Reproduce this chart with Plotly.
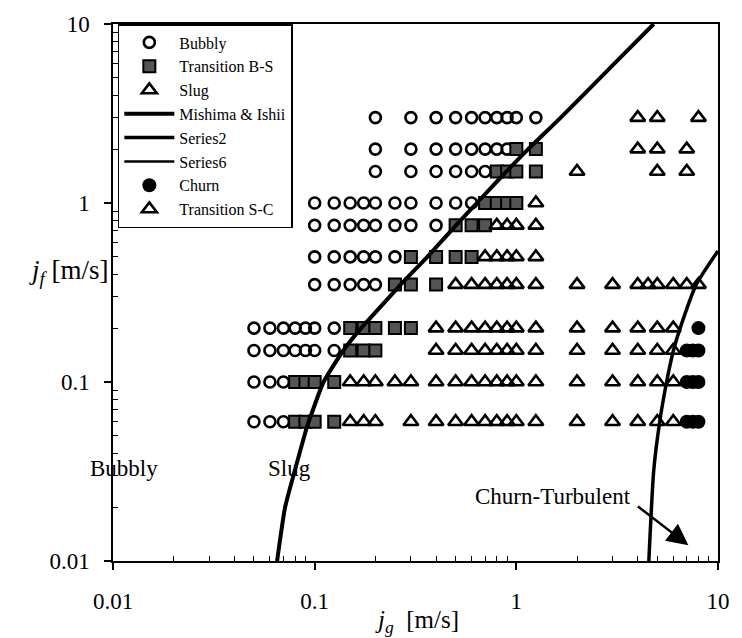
import plotly.graph_objects as go

# ---------------- data ----------------
jf_rows = [3.0, 2.0, 1.5, 1.0, 0.75, 0.5, 0.35, 0.2, 0.15, 0.1, 0.06]

bubbly_jg = [
    [0.2, 0.3, 0.4, 0.5, 0.6, 0.7, 0.8, 0.9, 1.0, 1.25],
    [0.2, 0.3, 0.4, 0.5, 0.6, 0.7, 0.8, 0.9],
    [0.2, 0.3, 0.4, 0.5, 0.6, 0.7],
    [0.1, 0.125, 0.15, 0.175, 0.2, 0.25, 0.3, 0.4, 0.5, 0.6],
    [0.1, 0.125, 0.15, 0.175, 0.2, 0.25, 0.3, 0.4],
    [0.1, 0.125, 0.15, 0.175, 0.2, 0.25],
    [0.1, 0.125, 0.15, 0.175, 0.2],
    [0.05, 0.06, 0.07, 0.08, 0.09, 0.1, 0.125],
    [0.05, 0.06, 0.07, 0.08, 0.09, 0.1, 0.125],
    [0.05, 0.06, 0.07],
    [0.05, 0.06, 0.07],
]

trans_bs_jg = [
    [],
    [1.0, 1.25],
    [0.8, 0.9, 1.0, 1.25],
    [0.7, 0.8, 0.9, 1.0],
    [0.5, 0.6, 0.7],
    [0.3, 0.4, 0.5, 0.6],
    [0.25, 0.3, 0.4],
    [0.15, 0.175, 0.2, 0.25, 0.3],
    [0.15, 0.175, 0.2],
    [0.08, 0.09, 0.1, 0.125],
    [0.08, 0.09, 0.1, 0.125],
]

slug_jg = [
    [4, 5, 8],
    [4, 5, 7],
    [2, 5, 7],
    [1.25],
    [0.8, 0.9, 1.0, 1.25],
    [0.7, 0.8, 0.9, 1.0, 1.25],
    [0.5, 0.6, 0.7, 0.8, 0.9, 1.0, 1.25, 2, 3, 4, 4.5, 5, 6, 7, 8],
    [0.4, 0.5, 0.6, 0.7, 0.8, 0.9, 1.0, 1.25, 2, 3, 4, 5],
    [0.4, 0.5, 0.6, 0.7, 0.8, 0.9, 1.0, 1.25, 2, 3, 4, 5],
    [0.15, 0.175, 0.2, 0.25, 0.3, 0.4, 0.5, 0.6, 0.7, 0.8, 0.9, 1.0, 1.25, 2, 3, 4, 5],
    [0.15, 0.175, 0.2, 0.3, 0.4, 0.5, 0.6, 0.7, 0.8, 0.9, 1.0, 1.25, 2, 3, 4, 5],
]

trans_sc_jg = [[], [], [], [], [], [], [], [6], [6], [6], [6]]

churn_jg = [[], [], [], [], [], [], [], [8], [7, 7.5, 8], [7, 7.5, 8], [7, 7.5, 8]]

mishima_jg = [0.0651, 0.0713, 0.0789, 0.0903, 0.0935, 0.1107, 0.1387, 0.170, 0.197,
              0.267, 0.362, 0.502, 0.637, 0.894, 1.145, 1.66, 3.06, 4.80]
mishima_jf = [0.01, 0.0199, 0.0307, 0.0532, 0.06, 0.1, 0.15, 0.2, 0.24,
              0.35, 0.5, 0.75, 1.0, 1.5, 2.0, 3.0, 6.0, 10.0]

series2_jg = [4.54, 4.8, 5.14, 5.56, 6.01, 6.49, 7.8, 10.0]
series2_jf = [0.01, 0.032, 0.06, 0.1, 0.15, 0.2, 0.35, 0.54]

series6_jg = [None]
series6_jf = [None]

tick_vals = [0.01, 0.1, 1, 10]
tick_text = ["0.01", "0.1", "1", "10"]
minor_digits = [2, 3, 4, 5, 6, 7, 8, 9]
decades = [0.01, 0.1, 1]


def flatten(rows, values):
    xs, ys = [], []
    for jf, row in zip(rows, values):
        for jg in row:
            xs.append(jg)
            ys.append(jf)
    return xs, ys


minor_vals = [d * k for d in decades for k in minor_digits]

SERIF = "Liberation Serif, Times New Roman, serif"

fig = go.Figure()

bx, by = flatten(jf_rows, bubbly_jg)
fig.add_trace(go.Scatter(x=bx, y=by, mode="markers", name="Bubbly",
                         marker=dict(symbol="circle-open", size=11, color="black",
                                     line=dict(width=2.6, color="black"))))

tx, ty = flatten(jf_rows, trans_bs_jg)
fig.add_trace(go.Scatter(x=tx, y=ty, mode="markers", name="Transition B-S",
                         marker=dict(symbol="square", size=12, color="#555555",
                                     line=dict(width=2, color="black"))))

sx, sy = flatten(jf_rows, slug_jg)
fig.add_trace(go.Scatter(x=sx, y=sy, mode="markers", name="Slug",
                         marker=dict(symbol="triangle-up-open", size=13, color="black",
                                     line=dict(width=2.6, color="black"))))

fig.add_trace(go.Scatter(x=mishima_jg, y=mishima_jf, mode="lines", name="Mishima & Ishii",
                         line=dict(color="black", width=4, shape="spline", smoothing=0.5)))

fig.add_trace(go.Scatter(x=series2_jg, y=series2_jf, mode="lines", name="Series2",
                         line=dict(color="black", width=3.5, shape="spline", smoothing=0.6)))

fig.add_trace(go.Scatter(x=series6_jg, y=series6_jf, mode="lines", name="Series6",
                         showlegend=True, line=dict(color="black", width=2.5)))

cx, cy = flatten(jf_rows, churn_jg)
fig.add_trace(go.Scatter(x=cx, y=cy, mode="markers", name="Churn",
                         marker=dict(symbol="circle", size=14, color="black",
                                     line=dict(width=0))))

scx, scy = flatten(jf_rows, trans_sc_jg)
fig.add_trace(go.Scatter(x=scx, y=scy, mode="markers", name="Transition S-C",
                         marker=dict(symbol="triangle-up-open", size=13, color="black",
                                     line=dict(width=2.6, color="black"))))

axis_common = dict(
    type="log", range=[-2, 1], showgrid=False, zeroline=False,
    showline=True, linecolor="black", linewidth=1.5, mirror=True,
    ticks="outside", ticklen=7, tickwidth=1.5, tickcolor="black",
    tickvals=tick_vals, ticktext=tick_text,
    tickfont=dict(family=SERIF, size=23, color="black"),
    minor=dict(ticks="inside", ticklen=5, tickwidth=1, tickcolor="black",
               tickvals=minor_vals, showgrid=False),
)

fig.update_xaxes(**axis_common, ticklabelstandoff=12)
fig.update_yaxes(**axis_common, ticklabelstandoff=10)

fig.update_layout(
    width=742, height=638,
    margin=dict(l=113, r=17, t=20, b=77),
    paper_bgcolor="white", plot_bgcolor="white",
    font=dict(family=SERIF, color="black"),
    showlegend=True,
    legend=dict(x=0.008, y=1.0, xanchor="left", yanchor="top",
                bgcolor="white", bordercolor="black", borderwidth=1.5,
                font=dict(family=SERIF, size=16, color="black"),
                itemwidth=50, tracegroupgap=0),
    annotations=[
        dict(x=-0.004, y=0.538, xref="paper", yref="paper", showarrow=False,
             xanchor="right", yanchor="middle",
             text="<i>j</i><sub><i>f</i></sub> [m/s]",
             font=dict(family=SERIF, size=27, color="black")),
        dict(x=0.502, y=-0.113, xref="paper", yref="paper", showarrow=False,
             xanchor="center", yanchor="middle",
             text="<i>j</i><sub><i>g</i></sub>  [m/s]",
             font=dict(family=SERIF, size=25, color="black")),
        dict(x=-1.947, y=-1.485, xref="x", yref="y", showarrow=False,
             xanchor="center", yanchor="middle",
             text="Bubbly", font=dict(family=SERIF, size=23, color="black")),
        dict(x=-1.127, y=-1.485, xref="x", yref="y", showarrow=False,
             xanchor="center", yanchor="middle",
             text="Slug", font=dict(family=SERIF, size=23, color="black")),
        dict(x=0.181, y=-1.64, xref="x", yref="y", showarrow=False,
             xanchor="center", yanchor="middle",
             text="Churn-Turbulent", font=dict(family=SERIF, size=23, color="black")),
        dict(x=0.853, y=-1.912, xref="x", yref="y", text="", showarrow=True,
             ax=-52, ay=-40, arrowhead=2, arrowsize=1.7, arrowwidth=2.5,
             arrowcolor="black"),
    ],
)

fig.write_html("out.html")
